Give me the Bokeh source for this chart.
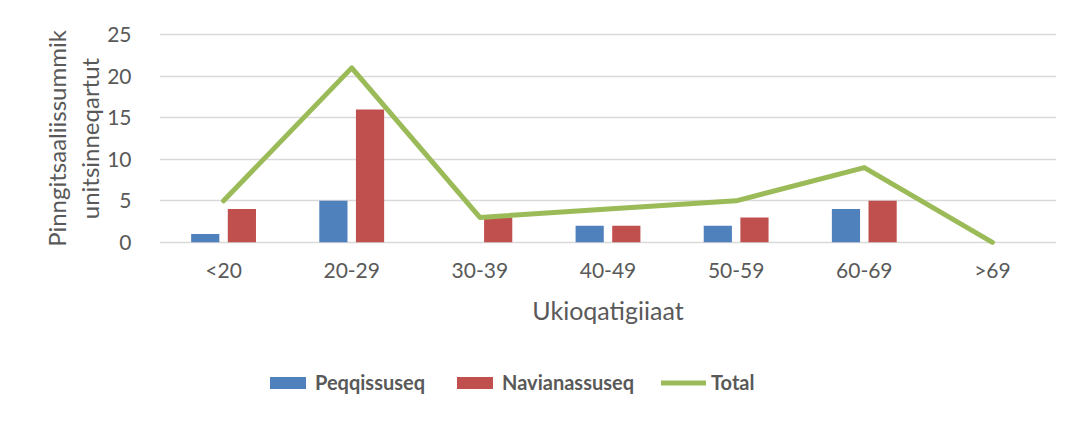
from bokeh.plotting import figure
from bokeh.layouts import column
from bokeh.models import FactorRange, Range1d, FixedTicker, Legend, LegendItem, ColumnDataSource
from bokeh.transform import dodge
from bokeh.embed import file_html
from bokeh.resources import INLINE

categories = ["<20", "20-29", "30-39", "40-49", "50-59", "60-69", ">69"]
peqqissuseq = [1, 5, 0, 2, 2, 4, 0]
navianassuseq = [4, 16, 3, 2, 3, 5, 0]
total = [5, 21, 3, 4, 5, 9, 0]
y_ticks = [0, 5, 10, 15, 20, 25]

FONT = "Lato"
TXT = "#595959"
GRID = "#d9d9d9"
BLUE, RED, GREEN = "#4f81bd", "#c0504d", "#9bbb59"

src = ColumnDataSource(dict(cat=categories, p=peqqissuseq, n=navianassuseq, t=total))

p = figure(x_range=FactorRange(*categories, range_padding=0),
           y_range=Range1d(-0.5, 25.5),
           frame_width=897, frame_height=216,
           min_border_left=159, min_border_right=20, min_border_top=30, min_border_bottom=94,
           output_backend="svg", toolbar_location=None, background_fill_color="white",
           border_fill_color="white")
p.outline_line_color = None

p.vbar(x=dodge("cat", -0.143, range=p.x_range), top="p", width=0.22, source=src,
       fill_color=BLUE, line_color=None)
p.vbar(x=dodge("cat", 0.143, range=p.x_range), top="n", width=0.22, source=src,
       fill_color=RED, line_color=None)
p.line(x="cat", y="t", source=src, line_color=GREEN, line_width=5,
       line_join="round", line_cap="round")

p.xgrid.grid_line_color = None
p.ygrid.grid_line_color = GRID
p.ygrid.grid_line_width = 1.5
p.yaxis.ticker = FixedTicker(ticks=y_ticks)

for ax in (p.xaxis[0], p.yaxis[0]):
    ax.axis_line_color = None
    ax.major_tick_line_color = None
    ax.minor_tick_line_color = None
    ax.major_label_text_font = FONT
    ax.major_label_text_font_size = "21px"
    ax.major_label_text_color = TXT
    ax.axis_label_text_font = FONT
    ax.axis_label_text_font_style = "normal"
    ax.axis_label_text_color = TXT

p.yaxis.major_label_standoff = 22
p.yaxis.axis_label = "Pinngitsaaliissummik\nunitsinneqartut"
p.yaxis.axis_label_text_font_size = "24px"
p.yaxis.axis_label_text_line_height = 1.15
p.yaxis.axis_label_standoff = 0
p.xaxis.major_label_standoff = 4
p.xaxis.axis_label = "Ukioqatigiiaat"
p.xaxis.axis_label_text_font_size = "25px"
p.xaxis.axis_label_standoff = 10

# legend strip below the chart (glyphs there fall outside its y range, only the legend shows)
lg = figure(x_range=FactorRange(*categories, range_padding=0), y_range=Range1d(100, 101),
            width=1076, height=81, min_border=0, x_axis_location=None, y_axis_location=None,
            output_backend="svg", toolbar_location=None, border_fill_color="white")
lg.outline_line_color = None
lg.grid.grid_line_color = None
l1 = lg.vbar(x="cat", top="p", width=0.22, source=src, fill_color=BLUE, line_color=None)
l2 = lg.vbar(x="cat", top="n", width=0.22, source=src, fill_color=RED, line_color=None)
l3 = lg.line(x="cat", y="t", source=src, line_color=GREEN, line_width=5, line_cap="round")

legend = Legend(items=[LegendItem(label="Peqqissuseq", renderers=[l1]),
                       LegendItem(label="Navianassuseq", renderers=[l2]),
                       LegendItem(label="Total", renderers=[l3])],
                orientation="horizontal", location=(106, 27),
                glyph_width=45, glyph_height=15, spacing=27, label_standoff=5,
                label_text_font=FONT, label_text_font_style="bold",
                label_text_font_size="20px", label_text_color=TXT,
                border_line_color=None, background_fill_alpha=0, margin=0)
lg.add_layout(legend, "center")

layout = column(p, lg, spacing=0)
open("out.html", "w").write(file_html(layout, INLINE))
